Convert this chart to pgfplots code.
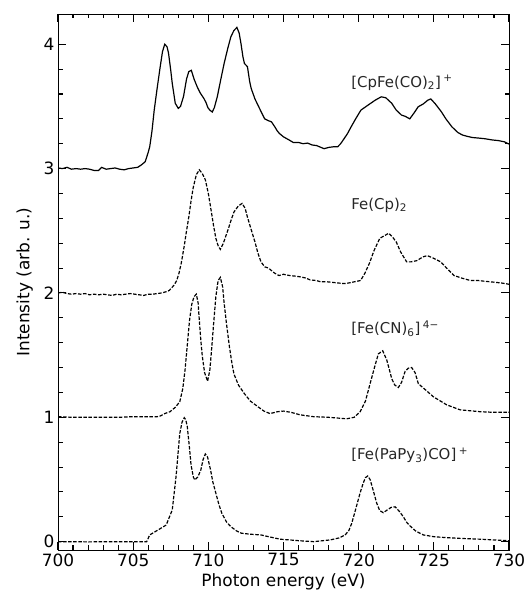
\documentclass[border=0pt]{standalone}
\usepackage{fontspec}
\setmainfont{DejaVu Sans}
\usepackage{pgfplots}
\pgfplotsset{compat=1.18}
\definecolor{txt}{HTML}{262626}
\begin{document}
\begin{tikzpicture}
\begin{axis}[
  scale only axis, width=451bp, height=536bp,
  xmin=700, xmax=730, ymin=-0.067, ymax=4.243,
  xtick={700,705,710,715,720,725,730},
  xticklabels={700,705,710,715,720,725,730},
  ytick={0,1,2,3,4},
  yticklabels={0,1,2,3,4},
  minor x tick num=4, minor y tick num=4,
  tick align=inside,
  major tick length=8bp, minor tick length=4.5bp,
  tick style={black, line width=1.1pt},
  tick label style={font=\fontsize{17}{20}\selectfont},
  xlabel={Photon energy (eV)},
  ylabel={Intensity (arb. u.)},
  xlabel style={font=\fontsize{17}{20}\selectfont},
  ylabel style={font=\fontsize{17}{20}\selectfont, at={(axis description cs:-0.048,0.5)}, anchor=south},
]
% [CpFe(CO)2]+
\addplot[black, line width=1.2pt] coordinates {
(700.0,3.005) (700.3,3.00) (700.6,3.01) (700.9,2.995) (701.2,3.00) (701.5,2.995)
(701.8,3.00) (702.1,2.995) (702.4,2.985) (702.7,2.985) (702.9,3.01) (703.2,2.995)
(703.5,3.00) (703.8,3.005) (704.1,2.995) (704.4,2.99) (704.7,3.00) (705.0,3.005)
(705.3,3.01) (705.55,3.03) (705.8,3.055) (706.0,3.13) (706.1,3.175) (706.25,3.30)
(706.4,3.47) (706.6,3.65) (706.8,3.82) (706.95,3.94) (707.1,4.00) (707.25,3.98)
(707.35,3.93) (707.5,3.79) (707.6,3.685) (707.8,3.525) (708.0,3.484) (708.15,3.50)
(708.35,3.58) (708.55,3.72) (708.7,3.78) (708.87,3.79) (709.05,3.72) (709.25,3.66)
(709.45,3.61) (709.7,3.565) (709.85,3.53) (709.97,3.49) (710.1,3.47) (710.26,3.455)
(710.4,3.49) (710.6,3.58) (710.8,3.70) (711.05,3.845) (711.3,3.97) (711.5,4.06)
(711.7,4.11) (711.9,4.135) (712.05,4.09) (712.17,4.006) (712.3,3.90) (712.4,3.845)
(712.6,3.82) (712.75,3.70) (712.85,3.645) (713.1,3.56) (713.3,3.51) (713.5,3.46)
(713.75,3.40) (714.0,3.385) (714.2,3.376) (714.4,3.34) (714.6,3.30) (714.75,3.28)
(715.0,3.255) (715.3,3.235) (715.65,3.21) (716.0,3.21) (716.3,3.20) (716.6,3.205)
(716.9,3.19) (717.2,3.185) (717.5,3.17) (717.7,3.16) (718.0,3.17) (718.3,3.175)
(718.6,3.175) (718.8,3.20) (719.0,3.235) (719.25,3.28) (719.5,3.336) (719.8,3.40)
(720.15,3.47) (720.5,3.50) (720.8,3.525) (721.1,3.55) (721.5,3.577) (721.8,3.57)
(722.2,3.525) (722.5,3.47) (722.85,3.43) (723.1,3.42) (723.4,3.40) (723.7,3.45)
(723.96,3.497) (724.3,3.52) (724.6,3.55) (724.8,3.56) (725.1,3.52) (725.5,3.457)
(725.8,3.40) (726.2,3.336) (726.6,3.29) (726.9,3.27) (727.2,3.26) (727.55,3.25)
(728.0,3.245) (728.4,3.24) (728.9,3.23) (729.3,3.225) (729.7,3.215) (730.0,3.197)
};
% Fe(Cp)2
\addplot[black, line width=1.2pt, dash pattern=on 3.5pt off 1.6pt] coordinates {
(700.0,2.00) (700.3,2.005) (700.6,1.995) (700.9,1.99) (701.2,1.995) (701.5,1.99)
(701.8,1.995) (702.1,1.985) (702.4,1.99) (702.7,1.985) (703.0,1.99) (703.3,1.985)
(703.6,1.98) (703.9,1.99) (704.2,1.985) (704.5,1.99) (704.8,1.995) (705.1,1.99)
(705.4,1.985) (705.7,1.98) (706.0,1.99) (706.3,1.99) (706.6,1.995) (706.9,2.00)
(707.2,2.01) (707.4,2.02) (707.7,2.06) (707.9,2.10) (708.05,2.16) (708.2,2.24)
(708.4,2.38) (708.55,2.50) (708.7,2.61) (708.85,2.74) (709.0,2.85) (709.2,2.95)
(709.4,2.99) (709.6,2.96) (709.8,2.91) (710.0,2.80) (710.15,2.69) (710.35,2.54)
(710.5,2.44) (710.65,2.38) (710.8,2.35) (711.0,2.40) (711.3,2.505) (711.5,2.58)
(711.7,2.65) (712.0,2.70) (712.25,2.72) (712.45,2.68) (712.6,2.61) (712.85,2.51)
(713.1,2.41) (713.3,2.32) (713.5,2.25) (713.75,2.21) (714.0,2.20) (714.4,2.16)
(714.7,2.14) (715.0,2.15) (715.4,2.14) (715.79,2.135) (716.08,2.13) (716.48,2.12)
(716.77,2.105) (717.17,2.10) (717.46,2.09) (717.86,2.09) (718.25,2.085) (718.65,2.08)
(719.04,2.075) (719.34,2.08) (719.73,2.09) (720.13,2.10) (720.42,2.16) (720.72,2.24)
(721.02,2.34) (721.41,2.44) (721.71,2.46) (722.0,2.48) (722.25,2.45) (722.5,2.41)
(722.79,2.33) (723.19,2.25) (723.48,2.25) (723.88,2.26) (724.27,2.29) (724.57,2.30)
(724.96,2.28) (725.46,2.25) (725.85,2.20) (726.34,2.14) (726.84,2.12) (727.43,2.10)
(727.93,2.10) (728.32,2.095) (728.72,2.09) (729.11,2.085) (729.5,2.08) (730.0,2.07)
};
% [Fe(CN)6]4-
\addplot[black, line width=1.2pt, dash pattern=on 3.5pt off 1.6pt] coordinates {
(700.0,1.005) (701.0,1.00) (702.0,1.00) (703.0,1.00) (704.0,1.00) (705.0,1.005)
(706.0,1.005) (706.6,1.005) (706.8,1.01) (707.1,1.03) (707.45,1.045) (707.8,1.08)
(708.1,1.125) (708.3,1.23) (708.45,1.38) (708.6,1.58) (708.75,1.78) (708.9,1.91)
(709.05,1.97) (709.2,1.99) (709.32,1.92) (709.4,1.78) (709.5,1.62) (709.6,1.49)
(709.75,1.36) (709.95,1.29) (710.1,1.38) (710.2,1.52) (710.35,1.75) (710.5,1.97)
(710.65,2.10) (710.8,2.125) (710.95,2.05) (711.05,1.92) (711.2,1.76) (711.4,1.57)
(711.55,1.45) (711.7,1.35) (712.0,1.26) (712.4,1.19) (712.8,1.13) (713.3,1.085)
(713.7,1.05) (714.1,1.03) (714.6,1.045) (715.0,1.05) (715.5,1.04) (716.1,1.02)
(717.0,1.005) (718.0,1.0) (719.2,0.988) (719.7,1.0) (720.1,1.045) (720.45,1.13)
(720.76,1.27) (721.05,1.40) (721.31,1.51) (721.6,1.535) (721.87,1.46) (722.05,1.38)
(722.2,1.31) (722.4,1.26) (722.64,1.24) (722.85,1.28) (723.09,1.37) (723.3,1.395)
(723.53,1.40) (723.75,1.36) (723.97,1.27) (724.31,1.235) (724.97,1.165) (725.86,1.10)
(726.75,1.06) (728.08,1.045) (729.0,1.04) (730.0,1.04)
};
% [Fe(PaPy3)CO]+
\addplot[black, line width=1.2pt, dash pattern=on 3.5pt off 1.6pt] coordinates {
(700.0,0.0) (701.0,0.0) (702.0,-0.002) (703.0,0.0) (704.0,0.0) (705.0,0.0)
(705.9,0.0) (706.1,0.054) (706.65,0.094) (707.2,0.134) (707.6,0.255) (707.85,0.52)
(708.1,0.87) (708.25,0.96) (708.4,0.997) (708.5,0.98) (708.6,0.925) (708.75,0.75)
(708.85,0.617) (709.0,0.52) (709.1,0.496) (709.3,0.52) (709.5,0.576) (709.65,0.66)
(709.8,0.705) (709.95,0.68) (710.15,0.576) (710.3,0.48) (710.5,0.39) (710.7,0.30)
(710.9,0.228) (711.2,0.16) (711.5,0.12) (711.9,0.085) (712.2,0.068) (712.8,0.06)
(713.5,0.054) (714.2,0.035) (714.77,0.02) (716.0,0.008) (717.0,0.0) (718.1,0.014)
(718.7,0.03) (719.1,0.054) (719.35,0.09) (719.54,0.148) (719.8,0.26) (720.09,0.39)
(720.3,0.47) (720.45,0.515) (720.6,0.528) (720.76,0.50) (720.95,0.42) (721.2,0.31)
(721.4,0.25) (721.64,0.233) (721.9,0.255) (722.15,0.275) (722.42,0.28) (722.7,0.245)
(722.97,0.2) (723.2,0.155) (723.42,0.126) (723.8,0.085) (724.31,0.054) (725.0,0.04)
(725.86,0.032) (727.0,0.025) (728.08,0.02) (729.0,0.014) (730.0,0.008)
};
\begin{scope}[every node/.style={anchor=west, inner sep=0pt, text=txt, font=\fontsize{15}{18}\selectfont}]
\node at (axis cs:719.5,3.69) {[CpFe(CO)\textsubscript{2}]\,\textsuperscript{+}};
\node at (axis cs:719.5,2.707) {Fe(Cp)\textsubscript{2}};
\node at (axis cs:719.5,1.71) {[Fe(CN)\textsubscript{6}]\,\textsuperscript{4−}};
\node at (axis cs:719.5,0.697) {[Fe(PaPy\textsubscript{3})CO]\,\textsuperscript{+}};
\end{scope}
\end{axis}
\pgfresetboundingbox
\useasboundingbox ([shift={(-58bp,-46bp)}]current axis.south west) rectangle ([shift={(20bp,14bp)}]current axis.north east);
\end{tikzpicture}
\end{document}
